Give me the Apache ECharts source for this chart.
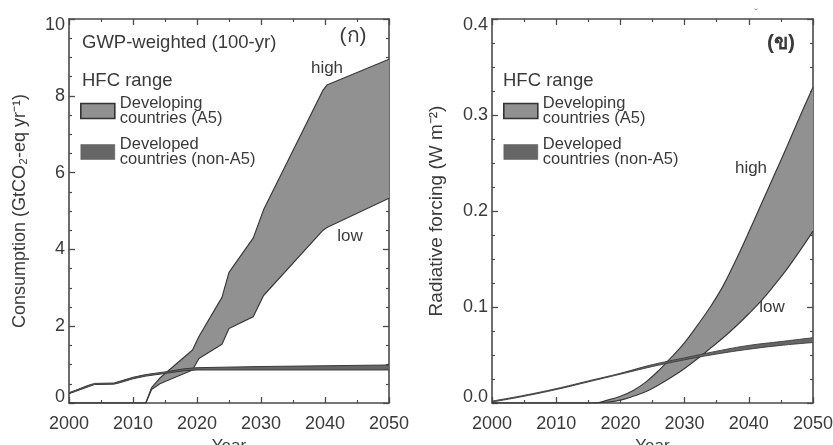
<!DOCTYPE html>
<html><head><meta charset="utf-8">
<script src="https://cdn.jsdelivr.net/npm/echarts@6/dist/echarts.min.js"></script>
<style>html,body{margin:0;padding:0;background:#fff}#c{width:833px;height:445px}</style>
</head><body><div id="c"></div>
<script>
// ---- data ----
// Panel (a): consumption, GtCO2-eq per year
const a5YearsL = [2000, 2012, 2012.9, 2014.2, 2019.3, 2020.3, 2023.9, 2025, 2028.8, 2030.4, 2039.7, 2040.3, 2050];
const a5LowL   = [0, 0, 0.35, 0.5, 0.86, 1.16, 1.53, 1.94, 2.25, 2.8, 4.5, 4.57, 5.33];
const a5HighL  = [0, 0, 0.4, 0.65, 1.38, 1.73, 2.75, 3.4, 4.3, 5.03, 8.15, 8.28, 8.95];
const devYearsL = [2000, 2001, 2003, 2004, 2007, 2008, 2010, 2012, 2015, 2018, 2020, 2030, 2040, 2050];
const devLowL   = [0.24, 0.3, 0.42, 0.48, 0.49, 0.53, 0.63, 0.7, 0.77, 0.84, 0.86, 0.86, 0.86, 0.86];
const devHighL  = [0.27, 0.33, 0.46, 0.51, 0.52, 0.57, 0.67, 0.74, 0.81, 0.89, 0.92, 0.95, 0.97, 0.99];
// Panel (b): radiative forcing, W m-2
const a5YearsR = [2000, 2016, 2018, 2020, 2022, 2024, 2026, 2028, 2030, 2032, 2034, 2036, 2038, 2040, 2042, 2044, 2046, 2048, 2050];
const a5LowR   = [0, 0, 0.001, 0.003, 0.007, 0.012, 0.019, 0.027, 0.036, 0.046, 0.057, 0.068, 0.080, 0.093, 0.107, 0.123, 0.140, 0.159, 0.179];
const a5HighR  = [0, 0, 0.003, 0.007, 0.013, 0.022, 0.034, 0.048, 0.063, 0.081, 0.100, 0.122, 0.149, 0.178, 0.208, 0.238, 0.268, 0.299, 0.329];
const devYearsR = [2000, 2005, 2010, 2015, 2020, 2025, 2030, 2035, 2040, 2045, 2050];
const devLowR   = [0.001, 0.007, 0.014, 0.022, 0.03, 0.038, 0.045, 0.051, 0.056, 0.06, 0.063];
const devHighR  = [0.002, 0.008, 0.015, 0.023, 0.031, 0.04, 0.047, 0.054, 0.06, 0.064, 0.068];
// texts
const nameA5 = 'Developing\ncountries (A5)';
const nameDev = 'Developed\ncountries (non-A5)';
const yNameL = 'Consumption (GtCO\u2082-eq yr\u207B\u00B9)';
const yNameR = 'Radiative forcing (W m\u207B\u00B2)';
const xName = 'Year';

// ---- styling ----
const FONT = "'Liberation Sans', Arial, Helvetica, sans-serif";
const TXT = '#3a3a3a';
const AX = '#4a4a4a';
const FILL_A5 = '#919191';
const FILL_DEV = '#666666';
const EDGE = '#3a3a3a';

function xAxisPair(grid) {
  const common = {type:'value', gridIndex:grid, min:2000, max:2050, interval:10,
    splitLine:{show:false},
    axisLine:{show:true, onZero:false, lineStyle:{color:AX, width:1.6}},
    axisTick:{show:true, inside:true, length:6, lineStyle:{color:AX, width:1.3}},
    minorTick:{show:true, splitNumber:2, length:3, lineStyle:{color:AX, width:1.2}},
    minorSplitLine:{show:false}};
  return [
    Object.assign({}, common, {position:'bottom',
      name:xName, nameLocation:'middle', nameGap:35, nameMoveOverlap:false,
      nameTextStyle:{fontFamily:FONT, fontSize:17, color:TXT},
      axisLabel:{show:true, margin:12, fontFamily:FONT, fontSize:18, color:TXT, showMinLabel:true, showMaxLabel:true, hideOverlap:false,
        formatter:function(v){ return String(Math.round(v)); }}}),
    Object.assign({}, common, {position:'top', axisLabel:{show:false}})
  ];
}
function yAxisPair(grid, max, interval, name, gap, nameSize, fmt) {
  const common = {type:'value', gridIndex:grid, min:0, max:max, interval:interval,
    splitLine:{show:false},
    axisLine:{show:true, onZero:false, lineStyle:{color:AX, width:1.6}},
    axisTick:{show:true, inside:true, length:6, lineStyle:{color:AX, width:1.3}},
    minorTick:{show:true, splitNumber:4, length:3, lineStyle:{color:AX, width:1.2}},
    minorSplitLine:{show:false}};
  const rich = {
    lo:{fontFamily:FONT, fontSize:18, color:TXT, padding:[0,0,12,0]},
    hi:{fontFamily:FONT, fontSize:18, color:TXT, padding:[12,0,0,0]}
  };
  return [
    Object.assign({}, common, {position:'left',
      name:name, nameLocation:'middle', nameGap:gap, nameMoveOverlap:false,
      nameTextStyle:{fontFamily:FONT, fontSize:nameSize, color:TXT},
      axisLabel:{show:true, margin:4, fontFamily:FONT, fontSize:18, color:TXT, showMinLabel:true, showMaxLabel:true, hideOverlap:false,
        formatter:function(v){
          const s = fmt(v);
          if (Math.abs(v) < 1e-9) return '{lo|' + s + '}';
          if (Math.abs(v - max) < 1e-9) return '{hi|' + s + '}';
          return s;
        }, rich:rich}}),
    Object.assign({}, common, {position:'right', axisLabel:{show:false}})
  ];
}

// data items are [value, year] and encoded so that the value (y) is the stacked dimension
function band(axisIdx, years, low, high, fill, stackId, name, smooth, z, lw) {
  return [
    {type:'line', name:stackId + '_low', xAxisIndex:axisIdx, yAxisIndex:axisIdx, stack:stackId,
     encode:{x:1, y:0},
     data: years.map((y,i)=>[low[i], y]), symbol:'none', smooth:smooth, z:z,
     lineStyle:{color:EDGE, width:lw}, silent:true, animation:false},
    {type:'line', name:name, xAxisIndex:axisIdx, yAxisIndex:axisIdx, stack:stackId,
     encode:{x:1, y:0},
     data: years.map((y,i)=>[+(high[i]-low[i]).toFixed(4), y]), symbol:'none', smooth:smooth, z:z,
     lineStyle:{color:EDGE, width:lw}, areaStyle:{color:fill, opacity:1}, itemStyle:{color:fill},
     silent:true, animation:false}
  ];
}

function legendAt(left) {
  return {left:left, top:95, orient:'vertical', padding:0, itemWidth:34, itemHeight:15, itemGap:9,
    selectedMode:false,
    textStyle:{fontFamily:FONT, fontSize:16.5, lineHeight:15, color:TXT},
    data:[
      {name:nameA5, icon:'rect', itemStyle:{color:FILL_A5, borderColor:'#333', borderWidth:1.6}},
      {name:nameDev, icon:'rect', itemStyle:{color:FILL_DEV, borderColor:'#5a5a5a', borderWidth:0.5}}
    ]};
}

function txt(x, y, s, size, extra) {
  return {type:'text', x:x, y:y, silent:true,
    style:Object.assign({text:s, fontFamily:FONT, fontSize:size, fill:TXT, align:'left', verticalAlign:'middle'}, extra || {})};
}

const chart = echarts.init(document.getElementById('c'), null, {renderer:'canvas'});
const xl = xAxisPair(0), xr = xAxisPair(1);
const yl = yAxisPair(0, 10, 2, yNameL, 40, 18, v => String(Math.round(v)));
const yr = yAxisPair(1, 0.4, 0.1, yNameR, 46, 19, v => v.toFixed(1));

chart.setOption({
  animation:false,
  backgroundColor:'#ffffff',
  grid:[
    {left:69, top:19, width:320, height:384, containLabel:false, outerBoundsMode:'none'},
    {left:492, top:19, width:321, height:384, containLabel:false, outerBoundsMode:'none'}
  ],
  xAxis:[xl[0], xl[1], xr[0], xr[1]],
  yAxis:[yl[0], yl[1], yr[0], yr[1]],
  legend:[legendAt(80), legendAt(503)],
  series:[].concat(
    band(0, a5YearsL, a5LowL, a5HighL, FILL_A5, 'a5L', nameA5, false, 2, 1.2),
    band(0, devYearsL, devLowL, devHighL, FILL_DEV, 'devL', nameDev, false, 3, 1.0),
    band(2, a5YearsR, a5LowR, a5HighR, FILL_A5, 'a5R', nameA5, 0.4, 2, 1.2),
    band(2, devYearsR, devLowR, devHighR, FILL_DEV, 'devR', nameDev, 0.4, 3, 0.9)
  ),
  graphic:[
    txt(82, 43, 'GWP-weighted (100-yr)', 18.5),
    txt(82, 81, 'HFC range', 18.5),
    txt(503, 81, 'HFC range', 18.5),
    txt(353, 36, '(\u0E01)', 21, {align:'center'}),
    txt(781, 43, '(\u0E02)', 21, {align:'center', fontWeight:'bold'}),
    txt(327, 68, 'high', 17, {align:'center'}),
    txt(350, 236, 'low', 17, {align:'center'}),
    txt(751, 168, 'high', 17, {align:'center'}),
    txt(772, 307, 'low', 17, {align:'center'}),
    txt(756, 14, '\u02C7', 11, {align:'center', fill:'#777'})
  ]
});
</script>
</body></html>
